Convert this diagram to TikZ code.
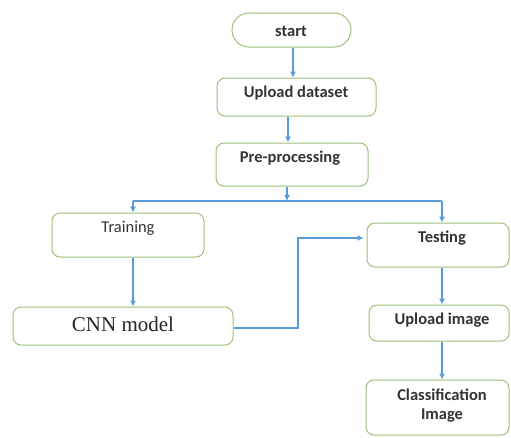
\documentclass[tikz,border=0pt]{standalone}
\usepackage{fontspec}
\setmainfont{Carlito}
\newfontfamily\serifcnn{Liberation Serif}
\usetikzlibrary{arrows.meta,calc}
\definecolor{boxgreen}{HTML}{9CC17A}
\definecolor{arrblue}{HTML}{5B9BD5}
\begin{document}
\begin{tikzpicture}[x=1pt,y=-1pt,
  box/.style={draw=boxgreen,line width=1pt,rounded corners=8pt,inner sep=0pt},
  lbl/.style={inner sep=0pt,font=\fontsize{16.5}{19}\selectfont\bfseries,text=black!80},
  conn/.style={draw=arrblue,line width=1.1pt},
  arr/.style={conn,-{Latex[length=6pt,width=6pt]}}]
\useasboundingbox (0,0) rectangle (511,437);
% boxes
\node[box,rounded corners=17pt,minimum width=119pt,minimum height=34pt] (start) at (291.5,30) {};
\node[box,minimum width=159pt,minimum height=38pt] (upload) at (296.5,97) {};
\node[box,minimum width=152pt,minimum height=43pt] (pre) at (292,164.5) {};
\node[box,minimum width=152pt,minimum height=44pt] (train) at (128,235) {};
\node[box,minimum width=142pt,minimum height=44pt] (test) at (438,245) {};
\node[box,minimum width=220pt,minimum height=38pt] (cnn) at (123,326) {};
\node[box,minimum width=140pt,minimum height=36pt] (upimg) at (439,323) {};
\node[box,minimum width=143pt,minimum height=55pt] (cls) at (437.5,407.5) {};
% labels
\node[lbl] (tstart) at (291,31) {start};
\node[lbl] (tupload) at (296,93) {Upload dataset};
\node[lbl] (tpre) at (290,158) {Pre-processing};
\node[lbl,font=\fontsize{16.5}{19}\selectfont] (ttrain) at (128,228) {Training};
\node[lbl] (ttest) at (442,238) {Testing};
\node[inner sep=0pt,font=\fontsize{21}{24}\selectfont\serifcnn,text=black!85] (tcnn) at (123,324) {CNN model};
\node[lbl] (tupimg) at (442,320) {Upload image};
\node[lbl,align=center,font=\fontsize{16.5}{19}\selectfont\bfseries] (tcls) at (442,406) {Classification\\Image};
% junction coordinates
\coordinate (jl) at (133,201);
\coordinate (jr) at (442,201);
\coordinate (jm) at (287,201);
\coordinate (bend) at (298,328);
% connectors
\draw[arr] ([xshift=1.5pt]start.south) -- ([xshift=1.5pt]start.south |- upload.north);
\draw[arr] ([xshift=-8.5pt]upload.south) -- ([xshift=-8.5pt]upload.south |- pre.north);
\draw[arr] (pre.south -| jm) -- (jm);
\draw[conn] (jl) -- (jr);
\draw[arr] (jl) -- (jl |- train.north);
\draw[arr] (jr) -- (jr |- test.north);
\draw[arr] (train.south -| jl) -- (jl |- cnn.north);
\draw[arr] (cnn.east |- bend) -- (bend) |- ([xshift=-3pt]test.west |- ttest);
\draw[arr] (test.south -| jr) -- (jr |- upimg.north);
\draw[arr] (upimg.south -| jr) -- (jr |- cls.north);
\end{tikzpicture}
\end{document}
